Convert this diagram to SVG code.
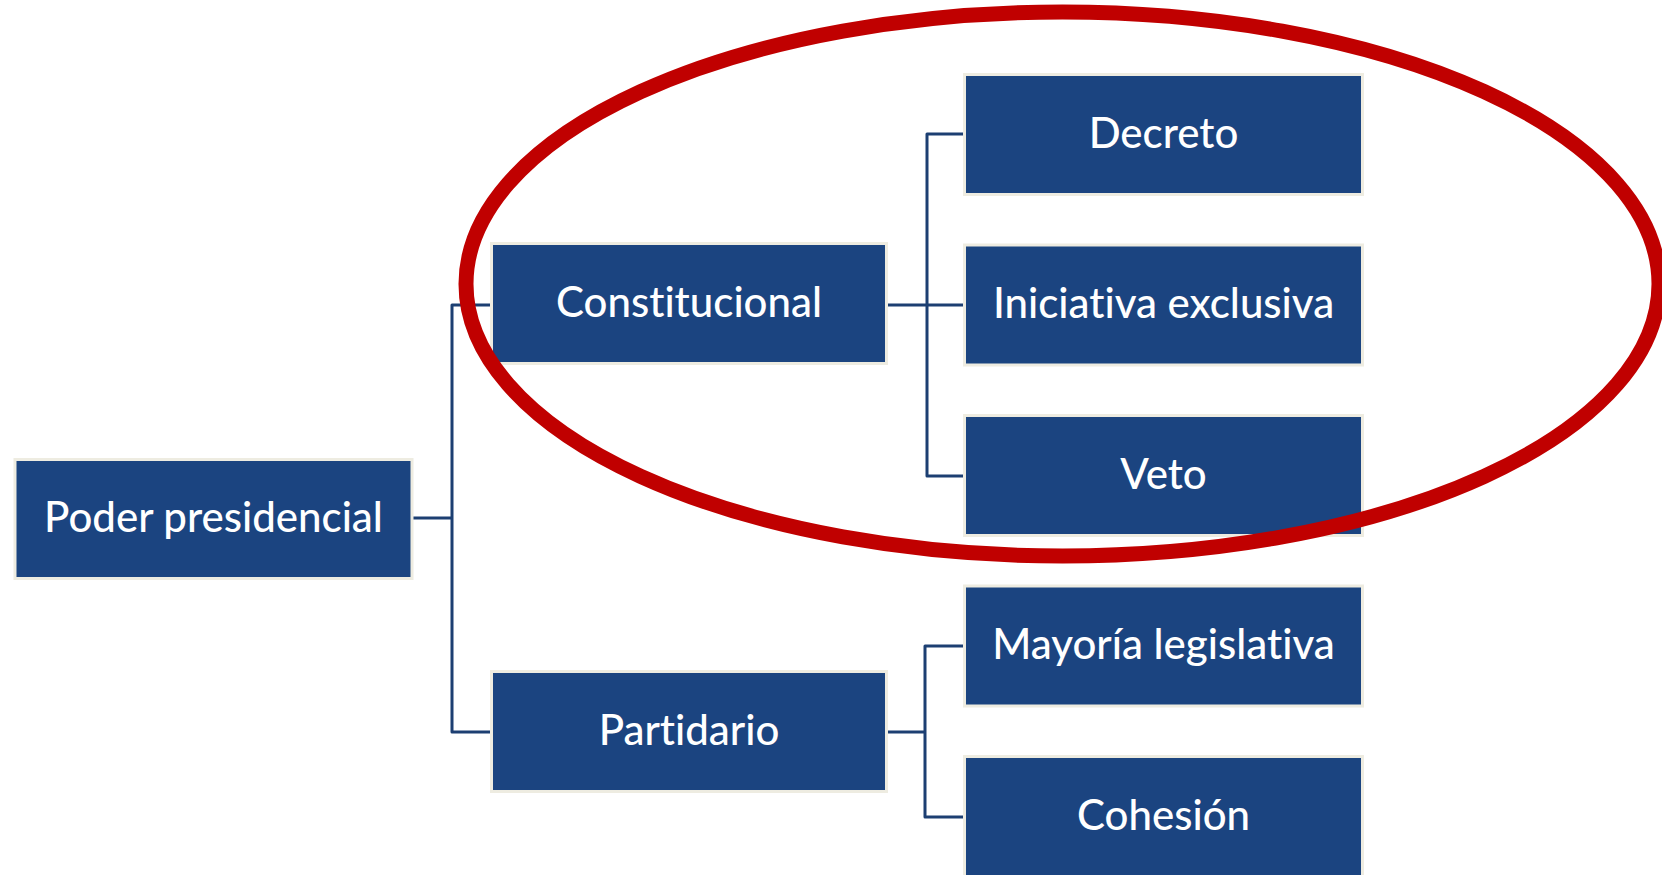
<svg xmlns="http://www.w3.org/2000/svg" width="1662" height="875" viewBox="0 0 1662 875">
<style>
.box{fill:#1b4480;stroke:#eeece1;stroke-width:3}
.lbl{fill:#ffffff;font-family:Lato,"Open Sans","Liberation Sans",sans-serif;font-size:42px;font-weight:500;text-anchor:middle;font-variant-ligatures:none;font-feature-settings:"liga" 0,"dlig" 0}
.con{fill:none;stroke:#1c3f72;stroke-width:3;stroke-linejoin:round;stroke-linecap:butt}
</style>
<rect width="1662" height="875" fill="#ffffff"/>
<g id="connectors">
<path class="con" d="M413 518 H452"/>
<path class="con" d="M490 305 H452 V732 H490"/>
<path class="con" d="M888 305 H963"/>
<path class="con" d="M963 134 H927 V476 H963"/>
<path class="con" d="M888 732 H925"/>
<path class="con" d="M963 646 H925 V817 H963"/>
</g>
<g id="poder"><rect class="box" x="15" y="459.5" width="397" height="119"/><text class="lbl" x="213.5" y="532">Poder presidencial</text></g>
<g id="constitucional"><rect class="box" x="491.5" y="243.5" width="395" height="120"/><text class="lbl" x="689" y="317">Constitucional</text></g>
<g id="partidario"><rect class="box" x="491.5" y="671.5" width="395" height="120"/><text class="lbl" x="689" y="745">Partidario</text></g>
<g id="decreto"><rect class="box" x="964.5" y="74.5" width="398" height="120"/><text class="lbl" x="1163.5" y="148">Decreto</text></g>
<g id="iniciativa"><rect class="box" x="964.5" y="245" width="398" height="120"/><text class="lbl" x="1163.5" y="318">Iniciativa exclusiva</text></g>
<g id="veto"><rect class="box" x="964.5" y="415.5" width="398" height="120"/><text class="lbl" x="1163.5" y="489">Veto</text></g>
<g id="mayoria"><rect class="box" x="964.5" y="586" width="398" height="120"/><text class="lbl" x="1163.5" y="659">Mayoría legislativa</text></g>
<g id="cohesion"><rect class="box" x="964.5" y="756.5" width="398" height="120"/><text class="lbl" x="1163.5" y="830">Cohesión</text></g>
<g id="highlight"><ellipse cx="1062.5" cy="284" rx="596.5" ry="272" fill="none" stroke="#c00000" stroke-width="15"/></g>
</svg>
